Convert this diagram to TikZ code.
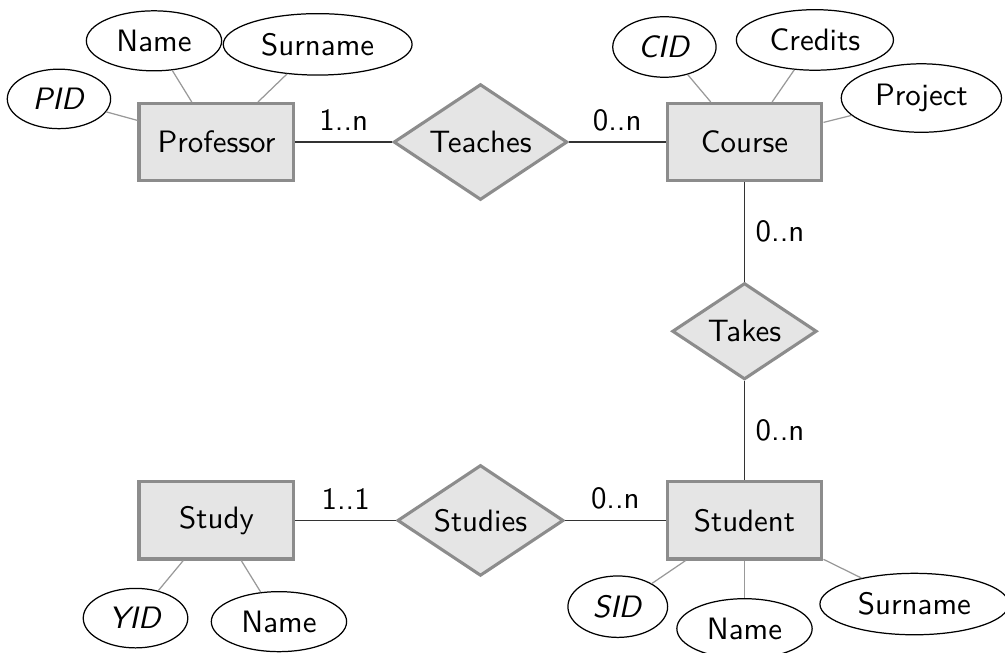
\documentclass[tikz,border=0pt]{standalone}
\usepackage{tikz}
\usetikzlibrary{shapes.geometric,positioning}

\begin{document}
\begin{tikzpicture}[
    font=\sffamily,
    node distance=2.15cm and 3.0cm,
    on grid,
    entity/.style={rectangle, draw=black!45, fill=gray!20, line width=1pt, minimum width=1.76cm, minimum height=0.875cm, align=center},
    relation/.style={diamond, draw=black!45, fill=gray!20, line width=1pt, aspect=1.5, inner sep=2.5pt, align=center},
    attrib/.style={ellipse, draw=black, fill=white, thin, align=center},
    link/.style={draw=black!80, line width=0.6pt},
    attrlink/.style={draw=black!40, thin}
]

\useasboundingbox (-2.46,-5.795) rectangle (8.96,1.614);

% Entities and relations
\node[entity] (prof) {Professor};
\node[relation, right=of prof] (teaches) {Teaches};
\node[entity, right=of teaches] (course) {Course};
\node[relation, below=of course] (takes) {Takes};
\node[entity, below=of takes] (student) {Student};
\node[relation, left=of student] (studies) {Studies};
\node[entity, left=of studies] (study) {Study};

% Attributes
\node[attrib, above left=0.49cm and 1.79cm of prof] (pid) {\textit{PID}};
\node[attrib, above left=1.15cm and 0.71cm of prof] (pname) {Name};
\node[attrib, above right=1.11cm and 1.15cm of prof] (psurname) {Surname};

\node[attrib, above left=1.08cm and 0.91cm of course] (cid) {\textit{CID}};
\node[attrib, above right=1.16cm and 0.80cm of course] (credits) {Credits};
\node[attrib, above right=0.50cm and 2.01cm of course] (project) {Project};

\node[attrib, below left=1.11cm and 0.92cm of study] (yid) {\textit{YID}};
\node[attrib, below right=1.15cm and 0.71cm of study] (yname) {Name};

\node[attrib, below left=0.98cm and 1.44cm of student] (sid) {\textit{SID}};
\node[attrib, below=1.23cm of student] (sname) {Name};
\node[attrib, below right=0.95cm and 1.93cm of student] (ssurname) {Surname};

% Relationship lines
\draw[link] (prof) -- node[above] {1..n} (teaches);
\draw[link] (teaches) -- node[above] {0..n} (course);
\draw[link] (course) -- node[right] {0..n} (takes);
\draw[link] (takes) -- node[right] {0..n} (student);
\draw[link] (student) -- node[above] {0..n} (studies);
\draw[link] (studies) -- node[above] {1..1} (study);

% Attribute lines
\draw[attrlink] (prof) -- (pid);
\draw[attrlink] (prof) -- (pname);
\draw[attrlink] (prof) -- (psurname);
\draw[attrlink] (course) -- (cid);
\draw[attrlink] (course) -- (credits);
\draw[attrlink] (course) -- (project);
\draw[attrlink] (study) -- (yid);
\draw[attrlink] (study) -- (yname);
\draw[attrlink] (student) -- (sid);
\draw[attrlink] (student) -- (sname);
\draw[attrlink] (student) -- (ssurname);

\end{tikzpicture}
\end{document}
